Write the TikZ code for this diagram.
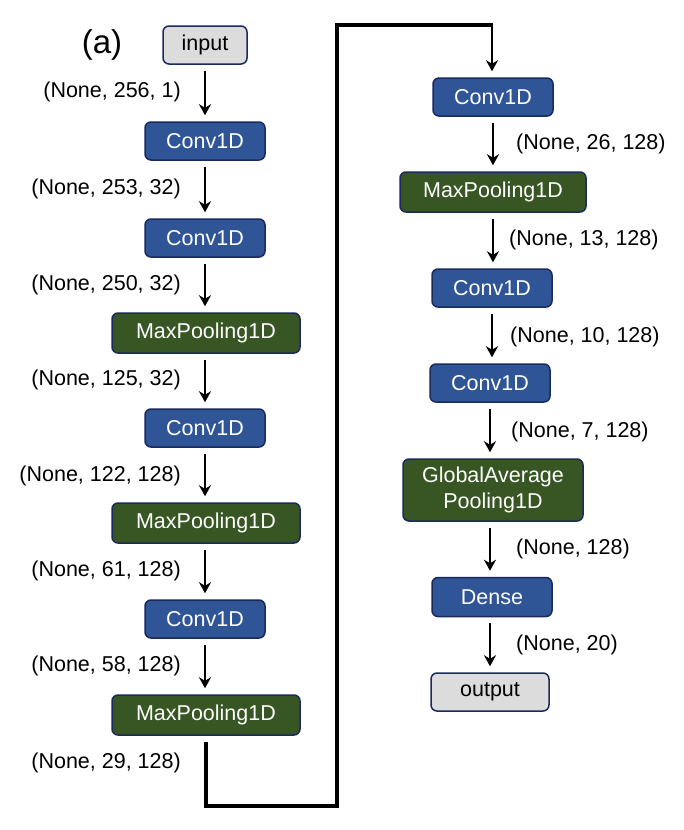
\documentclass[tikz,border=0pt]{standalone}
\usepackage{fontspec}
\setmainfont{Liberation Sans}
\usetikzlibrary{arrows.meta}
\definecolor{blu}{HTML}{2F5597}
\definecolor{grn}{HTML}{375623}
\definecolor{gry}{HTML}{DCDCDC}
\definecolor{nav}{HTML}{1A2A5E}
\tikzset{
  layer/.style={draw=nav, line width=1.5pt, rounded corners=6pt, inner sep=0pt, font=\fontsize{21.5}{26}\selectfont, align=center},
  conv/.style={layer, fill=blu, text=white, minimum width=120pt, minimum height=38pt},
  pool/.style={layer, fill=grn, text=white, minimum width=188pt, minimum height=40pt},
  io/.style={layer, fill=gry, text=black, minimum height=38pt},
  lbl/.style={font=\fontsize{21.5}{24}\selectfont, inner sep=0pt},
  tip/.style={-{Stealth[length=11pt,width=12pt,inset=3.5pt]}},
  flow/.style={tip, line width=2pt, shorten <=6pt, shorten >=6pt}
}
\begin{document}
\begin{tikzpicture}[x=1pt,y=-1pt]
\useasboundingbox (0,0) rectangle (684,830);
\node[font=\fontsize{33}{36}\selectfont, inner sep=0pt] (lab) at (102,45) {(a)};
% left column
\node[io, minimum width=84pt] (in) at (205,45) {input};
\node[conv] (c1) at (205,141) {Conv1D};
\node[conv] (c2) at (205,238) {Conv1D};
\node[pool] (p1) at (206,333) {MaxPooling1D};
\node[conv] (c3) at (205,428) {Conv1D};
\node[pool] (p2) at (206,523) {MaxPooling1D};
\node[conv] (c4) at (205,619) {Conv1D};
\node[pool] (p3) at (206,715) {MaxPooling1D};
% right column
\node[conv] (c5) at (493,97) {Conv1D};
\node[pool, minimum width=186pt] (p4) at (493,192) {MaxPooling1D};
\node[conv] (c6) at (492,288) {Conv1D};
\node[conv] (c7) at (490,383) {Conv1D};
\node[layer, fill=grn, text=white, minimum width=180pt, minimum height=62pt] (gap) at (493,490) {GlobalAverage\\Pooling1D};
\node[conv, minimum height=39pt] (d) at (492,597) {Dense};
\node[io, minimum width=118pt] (out) at (490,692) {output};
% arrows left
\draw[flow] (in.south) -- (in.south |- c1.north);
\draw[flow] (c1.south) -- (c1.south |- c2.north);
\draw[flow] (c2.south) -- (c2.south |- p1.north);
\draw[flow] (p1.south -| c2.south) -- (c2.south |- c3.north);
\draw[flow] (c3.south) -- (c3.south |- p2.north);
\draw[flow] (p2.south -| c3.south) -- (c3.south |- c4.north);
\draw[flow] (c4.south) -- (c4.south |- p3.north);
% arrows right
\draw[flow] (c5.south) -- (c5.south |- p4.north);
\draw[flow] (p4.south -| c5.south) -- (c5.south |- c6.north);
\draw[flow] (c6.south) -- (c6.south |- c7.north);
\draw[flow] (c7.south) -- (c7.south |- gap.north);
\draw[flow] (gap.south -| c7.south) -- (c7.south |- d.north);
\draw[flow] (d.south -| c7.south) -- (c7.south |- out.north);
% connector
\coordinate (k1) at (206,806);
\coordinate (k2) at (337,806);
\coordinate (k3) at (337,25);
\coordinate (k4) at (492,25);
\draw[line width=3.5pt, line join=miter, shorten <=6pt]
  (p3.south) -- (k1) -- (k2) -- (k3) -- ([xshift=1.25pt]k4);
\draw[tip, line width=2.5pt, shorten >=6pt] ([yshift=-1.75pt]k4) -- (k4 |- c5.north);
% labels left
\node[lbl, anchor=east] (l1) at (181,92) {(None, 256, 1)};
\node[lbl, anchor=east] (l2) at (181,189) {(None, 253, 32)};
\node[lbl, anchor=east] (l3) at (181,285) {(None, 250, 32)};
\node[lbl, anchor=east] (l4) at (181,380) {(None, 125, 32)};
\node[lbl, anchor=east] (l5) at (181,476) {(None, 122, 128)};
\node[lbl, anchor=east] (l6) at (181,571) {(None, 61, 128)};
\node[lbl, anchor=east] (l7) at (181,666) {(None, 58, 128)};
\node[lbl, anchor=east] (l8) at (181,763) {(None, 29, 128)};
% labels right
\node[lbl, anchor=west] (r1) at (516,144) {(None, 26, 128)};
\node[lbl, anchor=west] (r2) at (509,240) {(None, 13, 128)};
\node[lbl, anchor=west] (r3) at (510,337) {(None, 10, 128)};
\node[lbl, anchor=west] (r4) at (511,432) {(None, 7, 128)};
\node[lbl, anchor=west] (r5) at (516,549) {(None, 128)};
\node[lbl, anchor=west] (r6) at (516,645) {(None, 20)};
\end{tikzpicture}
\end{document}
